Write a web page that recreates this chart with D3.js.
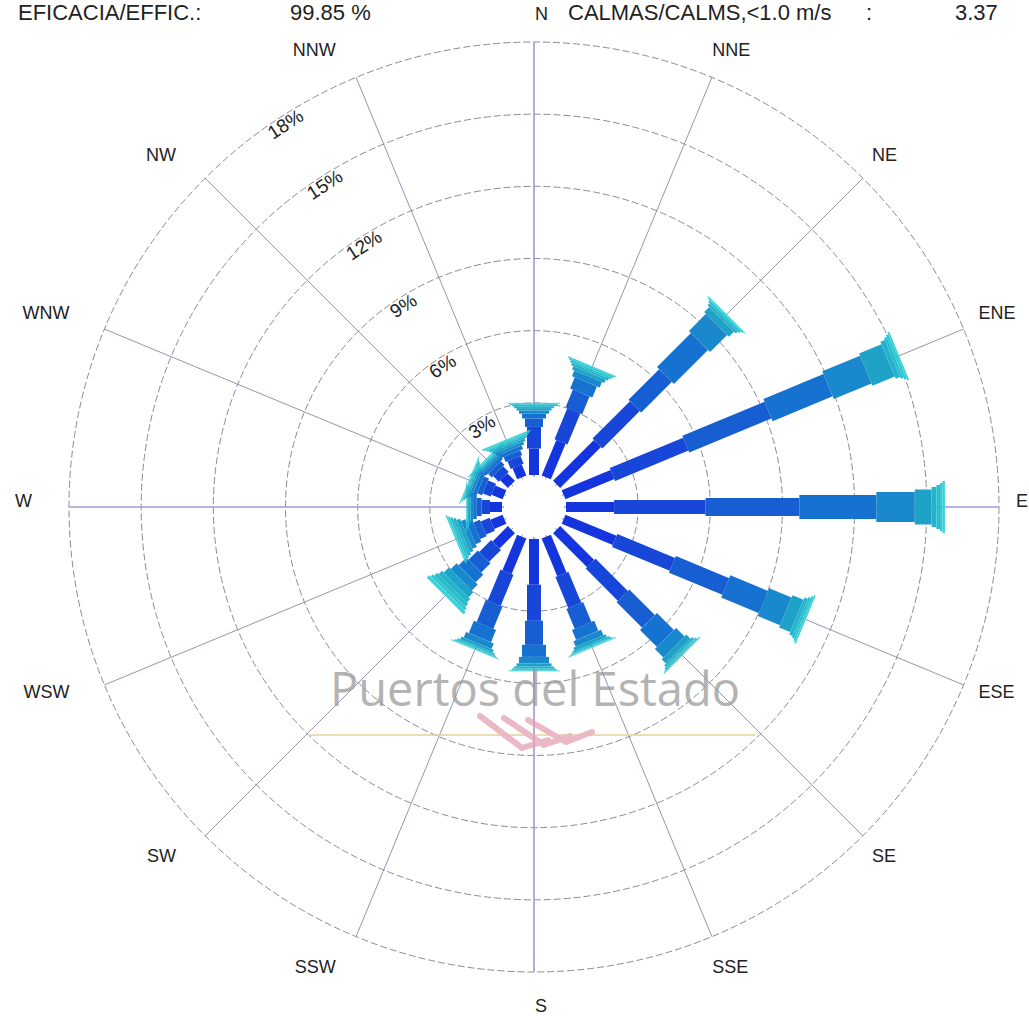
<!DOCTYPE html>
<html><head><meta charset="utf-8">
<script src="https://cdn.jsdelivr.net/npm/d3@7"></script>
<style>html,body{margin:0;padding:0;background:#fff;overflow:hidden}</style>
</head><body>
<svg id="chart" width="1029" height="1016"></svg>
<script>
// ---- data ----
const directions = ["N","NNE","NE","ENE","E","ESE","SE","SSE","S","SSW","SW","WSW","W","WNW","NW","NNW"];
const speedClasses = ["1-2","2-3","3-4","4-5","5-6","6-7","7-8","8-9","9-10",">10"];
// frequency (%) per speed class, one value per direction (N .. NNW)
const class1 = [1.1,1.6,2.4,2.2,2.0,2.3,2.0,1.7,1.9,1.6,0.9,0.55,0.5,0.5,0.45,0.5];
const class2 = [0.9,1.4,2.2,3.3,3.8,2.6,1.9,1.4,1.5,1.4,0.7,0.4,0.35,0.35,0.33,0.35];
const class3 = [0.35,0.8,1.8,3.7,3.9,2.4,1.5,0.9,1.0,1.0,0.55,0.3,0.2,0.22,0.22,0.22];
const class4 = [0.2,0.5,2.0,2.7,3.2,1.7,1.0,0.45,0.5,0.55,0.45,0.25,0.15,0.16,0.15,0.16];
const class5 = [0.13,0.25,1.0,1.7,1.6,1.0,0.5,0.25,0.27,0.25,0.35,0.2,0.1,0.12,0.11,0.12];
const class6 = [0.1,0.15,0.3,1.0,0.7,0.5,0.25,0.12,0.13,0.12,0.3,0.15,0.07,0.08,0.08,0.1];
const class7 = [0.08,0.1,0.12,0.2,0.2,0.15,0.1,0.07,0.08,0.07,0.2,0.12,0.05,0.06,0.06,0.08];
const class8 = [0.06,0.08,0.08,0.12,0.15,0.1,0.07,0.05,0.06,0.05,0.17,0.1,0.04,0.05,0.04,0.06];
const class9 = [0.04,0.07,0.05,0.1,0.1,0.08,0.05,0.03,0.03,0.03,0.14,0.07,0.02,0.03,0.03,0.05];
const class10 = [0.04,0.05,0.05,0.08,0.1,0.07,0.03,0.03,0.03,0.03,0.14,0.06,0.02,0.03,0.03,0.06];
const ringTicks = [3,6,9,12,15,18];
const efficacy = "99.85 %";
const calms = "3.37";

// ---- styles ----
const classColors = ["#1434de","#1746d8","#165ed2","#1672d0","#1a88cc","#1fa2c8","#24b2cc","#28bece","#2ec8d2","#38d2d8"];
const classWidths = [10,14,18,24,30,35,40,44,48,52];
const W = 1029, H = 1016, cx = 534, cy = 507;
const font = "'Liberation Sans', Arial, Helvetica, sans-serif";

const series = [class1,class2,class3,class4,class5,class6,class7,class8,class9,class10];
const svg = d3.select("#chart");
const r = d3.scaleLinear().domain([0,18]).range([32,465]);
const ang = d3.scaleBand().domain(directions).range([0,360]).paddingInner(0).align(0);
const angleOf = d => ang(d); // N = 0, clockwise
const rad = a => a*Math.PI/180;

// rings
const g = svg.append("g");
g.selectAll("circle.ring").data(ringTicks).join("circle")
  .attr("cx",cx).attr("cy",cy).attr("r",d=>r(d))
  .attr("fill","none").attr("stroke","#8a8a9a").attr("stroke-width",1)
  .attr("stroke-dasharray","7,3");

// spokes
g.selectAll("line.spoke").data(directions).join("line")
  .attr("x1",cx).attr("y1",cy)
  .attr("x2",d=>cx + r(18)*Math.sin(rad(angleOf(d))))
  .attr("y2",d=>cy - r(18)*Math.cos(rad(angleOf(d))))
  .attr("stroke",d=>["N","E","S","W"].includes(d)?"#9c9cd8":"#7a7a9c")
  .attr("stroke-width",d=>["N","E","S","W"].includes(d)?1.6:0.8);

// bars (stacked speed classes)
const stacked = directions.map((d,i)=>{
  let cum = 0;
  return series.map((s,k)=>{ const v0 = cum; cum += s[i]; return {dir:d,k,v0,v1:cum}; });
});
const bars = svg.append("g");
directions.forEach((d,i)=>{
  const gd = bars.append("g").attr("transform",`translate(${cx},${cy}) rotate(${angleOf(d)})`);
  gd.selectAll("rect").data(stacked[i]).join("rect")
    .attr("x",s=>-classWidths[s.k]/2)
    .attr("width",s=>classWidths[s.k])
    .attr("y",s=>-r(s.v1))
    .attr("height",s=>Math.max(0,r(s.v1)-r(s.v0)))
    .attr("fill",s=>classColors[s.k]);
});

// hole
svg.append("circle").attr("cx",cx).attr("cy",cy).attr("r",30).attr("fill","#fff");

// ring labels
const labAng = -33;
svg.append("g").selectAll("text").data(ringTicks).join("text")
  .attr("transform",d=>`translate(${cx},${cy}) rotate(${labAng}) translate(0,${-(r(d)-15)})`)
  .attr("text-anchor","middle").attr("font-family",font).attr("font-size",19)
  .attr("fill","#222").text(d=>d+"%");

// direction labels
svg.append("g").selectAll("text").data(directions).join("text")
  .each(function(d){
    const a = rad(angleOf(d)), s = Math.sin(a), c = Math.cos(a);
    const side = Math.abs(s) < 0.01 ? 0 : Math.sign(s);
    const x = side===0 ? cx+1 : cx-10 + 492*s;
    const y = cy + 3 - 496*c - 9*s*s;
    d3.select(this).attr("x",x).attr("y",y)
      .attr("text-anchor", side<0 ? "end" : "start")
      .attr("dominant-baseline","central");
  })
  .attr("font-family",font).attr("font-size",18).attr("fill","#222").text(d=>d);

// header texts
const hdr = svg.append("g").attr("font-family",font).attr("font-size",22).attr("fill","#222");
hdr.append("text").attr("x",18).attr("y",20).text("EFICACIA/EFFIC.:");
hdr.append("text").attr("x",290).attr("y",20).text(efficacy);
hdr.append("text").attr("x",568).attr("y",20).text("CALMAS/CALMS,<1.0 m/s");
hdr.append("text").attr("x",866).attr("y",20).text(":");
hdr.append("text").attr("x",955).attr("y",20).text(calms);

// watermark
const wm = svg.append("g").attr("opacity",0.75);
wm.append("line").attr("x1",310).attr("x2",755).attr("y1",735).attr("y2",735)
  .attr("stroke","#e2d29a").attr("stroke-width",2);
[0,1,2].forEach(i=>{
  wm.append("path")
    .attr("d",`M${480+i*24},${716+i*2} L${522+i*22},${748-i*3} L${548+i*22},${740-i*4}`)
    .attr("fill","none").attr("stroke","#e4a2b2").attr("stroke-width",6).attr("stroke-linecap","round")
    .attr("stroke-linejoin","round");
});
wm.append("text").attr("x",535).attr("y",706).attr("text-anchor","middle")
  .attr("font-family","'Open Sans','Noto Sans',sans-serif").attr("font-size",47)
  .attr("fill","#9a9a9a").text("Puertos del Estado");
</script>
</body></html>
